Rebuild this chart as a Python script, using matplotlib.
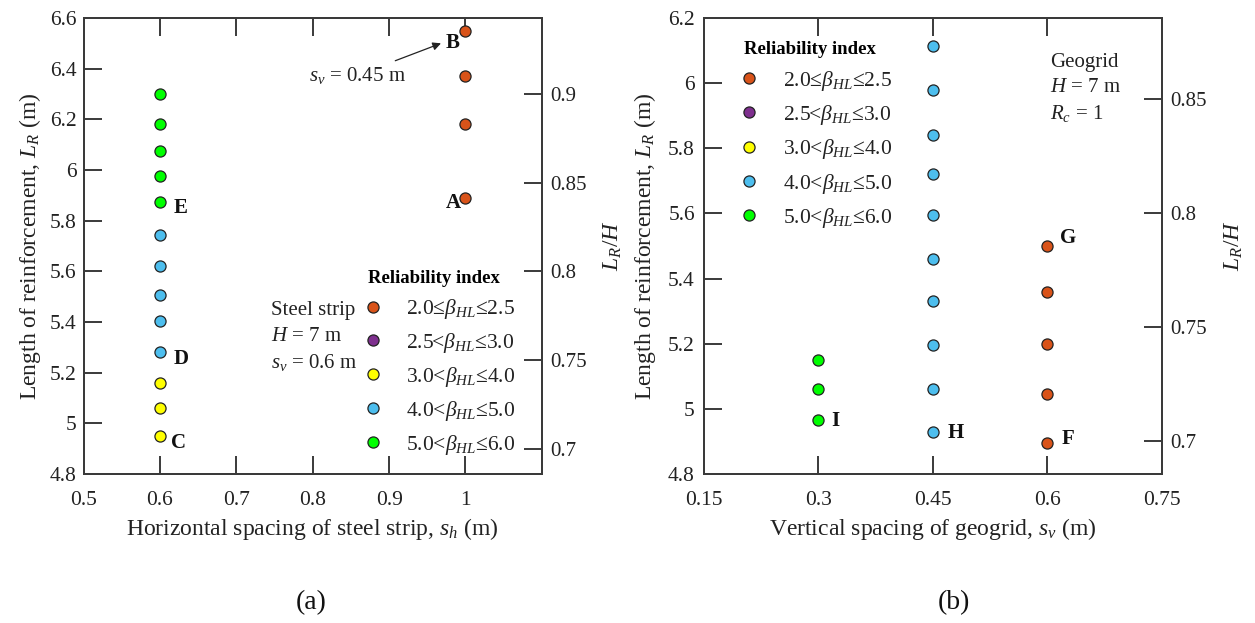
import matplotlib
matplotlib.use("Agg")
import matplotlib.pyplot as plt

plt.rcParams["font.family"] = ["Liberation Serif", "DejaVu Serif"]
plt.rcParams["mathtext.fontset"] = "custom"
plt.rcParams["mathtext.rm"] = "Liberation Serif"
plt.rcParams["mathtext.it"] = "Liberation Serif:italic"
plt.rcParams["mathtext.bf"] = "Liberation Serif:bold"

# ---------------- data ----------------
H_WALL = 7.0  # wall height (m)

classes = ["2.0≤$\\beta_{HL}$≤2.5",
           "2.5<$\\beta_{HL}$≤3.0",
           "3.0<$\\beta_{HL}$≤4.0",
           "4.0<$\\beta_{HL}$≤5.0",
           "5.0<$\\beta_{HL}$≤6.0"]
class_colors = ["#D95319", "#7E2F8E", "#FFFF00", "#4DBEEE", "#00FF00"]

# (a) steel strip: horizontal spacing s_h (m), length L_R (m), reliability class
a_sh = [1.0, 1.0, 1.0, 1.0,
        0.6, 0.6, 0.6,
        0.6, 0.6, 0.6, 0.6, 0.6,
        0.6, 0.6, 0.6, 0.6, 0.6]
a_LR = [6.55, 6.37, 6.18, 5.89,
        5.16, 5.06, 4.95,
        5.745, 5.62, 5.505, 5.405, 5.28,
        6.30, 6.18, 6.075, 5.975, 5.875]
a_cls = [0, 0, 0, 0,
         2, 2, 2,
         3, 3, 3, 3, 3,
         4, 4, 4, 4, 4]

# (b) geogrid: vertical spacing s_v (m), length L_R (m), reliability class
b_sv = [0.6, 0.6, 0.6, 0.6, 0.6,
        0.45, 0.45, 0.45, 0.45, 0.45, 0.45, 0.45, 0.45, 0.45, 0.45,
        0.3, 0.3, 0.3]
b_LR = [5.50, 5.36, 5.20, 5.045, 4.895,
        6.115, 5.98, 5.84, 5.72, 5.595, 5.46, 5.33, 5.195, 5.06, 4.93,
        5.15, 5.06, 4.965]
b_cls = [0, 0, 0, 0, 0,
         3, 3, 3, 3, 3, 3, 3, 3, 3, 3,
         4, 4, 4]

# labelled points: (letter, x, y, offset in pixels)
a_labels = [("B", 1.0, 6.55, (-20, -12)), ("A", 1.0, 5.89, (-20, -5)),
            ("E", 0.6, 5.875, (14, -6)), ("D", 0.6, 5.28, (14, -7)),
            ("C", 0.6, 4.95, (11, -7))]
b_labels = [("G", 0.6, 5.50, (13, 8)), ("F", 0.6, 4.895, (14, 4)),
            ("H", 0.45, 4.93, (15, -1)), ("I", 0.3, 4.965, (13, -1))]

a_xticks = [0.5, 0.6, 0.7, 0.8, 0.9, 1.0]
a_xticklabels = ["0.5", "0.6", "0.7", "0.8", "0.9", "1"]
a_yticks = [4.8, 5.0, 5.2, 5.4, 5.6, 5.8, 6.0, 6.2, 6.4, 6.6]
a_yticklabels = ["4.8", "5", "5.2", "5.4", "5.6", "5.8", "6", "6.2", "6.4", "6.6"]
a_rticks = [0.7, 0.75, 0.8, 0.85, 0.9]
a_rticklabels = ["0.7", "0.75", "0.8", "0.85", "0.9"]

b_xticks = [0.15, 0.3, 0.45, 0.6, 0.75]
b_xticklabels = ["0.15", "0.3", "0.45", "0.6", "0.75"]
b_yticks = [4.8, 5.0, 5.2, 5.4, 5.6, 5.8, 6.0, 6.2]
b_yticklabels = ["4.8", "5", "5.2", "5.4", "5.6", "5.8", "6", "6.2"]
b_rticks = [0.7, 0.75, 0.8, 0.85]
b_rticklabels = ["0.7", "0.75", "0.8", "0.85"]

# ---------------- figure ----------------
W, Hpx = 1255, 623
fig = plt.figure(figsize=(W / 100, Hpx / 100), dpi=100)

SPINE = "#3a3a3a"
TXT = "#222222"
TICK_FS = 15.5
LAB_FS = 17
LEG_FS = 15.5
MS = 8
TICK_LEN = 13
LW = 1.4


def px_axes(left, top, right, bottom):
    return fig.add_axes([left / W, 1 - bottom / Hpx, (right - left) / W, (bottom - top) / Hpx])


def make_twin(ax, rticks, rlabels):
    """Right-hand axis showing L_R/H on the same vertical scale."""
    tw = ax.twinx()
    lo, hi = ax.get_ylim()
    tw.set_ylim(lo / H_WALL, hi / H_WALL)
    tw.set_yticks(rticks, rlabels)
    tw.tick_params(axis="y", which="major", direction="in", length=TICK_LEN,
                   width=LW, color=SPINE, labelsize=TICK_FS - 0.5,
                   labelcolor=TXT, pad=6, left=False, right=True)
    for s in tw.spines.values():
        s.set_color(SPINE)
        s.set_linewidth(LW)
    return tw


def style(ax, ypad):
    for s in ax.spines.values():
        s.set_color(SPINE)
        s.set_linewidth(LW)
    ax.tick_params(axis="x", which="major", direction="in", length=TICK_LEN,
                   width=LW, color=SPINE, labelsize=TICK_FS, labelcolor=TXT,
                   top=True, bottom=True, pad=12)
    ax.tick_params(axis="y", which="major", direction="in", length=TICK_LEN,
                   width=LW, color=SPINE, labelsize=TICK_FS, labelcolor=TXT,
                   left=True, right=False, pad=ypad)


def draw_points(ax, xs, ys, cls):
    for k, (lab, col) in enumerate(zip(classes, class_colors)):
        px = [x for x, c in zip(xs, cls) if c == k]
        py = [y for y, c in zip(ys, cls) if c == k]
        ax.plot(px, py, linestyle="none", marker="o", ms=MS, mfc=col,
                mec="#222222", mew=0.9, label=lab, zorder=3)


def draw_letters(ax, labels):
    for txt, x, y, (dx, dy) in labels:
        ax.annotate(txt, xy=(x, y), xytext=(dx, dy), textcoords="offset pixels",
                    ha="left", va="center", fontsize=15, fontweight="bold",
                    color="#111111")


def add_legend(ax, anchor, spacing):
    leg = ax.legend(loc="upper left", bbox_to_anchor=anchor, frameon=False,
                    fontsize=LEG_FS, borderpad=0, borderaxespad=0,
                    handlelength=0.5, handletextpad=1.3, labelspacing=spacing,
                    title="Reliability index",
                    title_fontproperties={"weight": "bold", "size": 13.5},
                    alignment="left")
    for t in leg.get_texts():
        t.set_color(TXT)
    return leg


# ----- panel (a) -----
axa = px_axes(83.6, 18, 541.8, 474)
draw_points(axa, a_sh, a_LR, a_cls)
axa.set_xlim(0.5, 1.1)
axa.set_ylim(4.8, 6.6)
axa.set_xticks(a_xticks, a_xticklabels)
axa.set_yticks(a_yticks, a_yticklabels)
style(axa, 5)
twa = make_twin(axa, a_rticks, a_rticklabels)
axa.set_xlabel(r"Horizontal spacing of steel strip, $s_h$ (m)", fontsize=LAB_FS,
               color=TXT, labelpad=4.5)
axa.set_ylabel(r"Length of reinforcement, $L_R$ (m)", fontsize=LAB_FS,
               color=TXT, labelpad=5)
twa.set_ylabel(r"$L_R/H$", fontsize=LAB_FS, color=TXT, labelpad=11)
draw_letters(axa, a_labels)
axa.annotate(r"$s_v$ = 0.45 m", xy=(0.968, 6.50), xytext=(0.9225, 6.375),
             ha="right", va="center", fontsize=15, color=TXT,
             arrowprops=dict(arrowstyle="-|>", color=TXT, lw=0.9,
                             shrinkA=2, shrinkB=0, mutation_scale=12))
for i, line in enumerate(["Steel strip", r"$H$ = 7 m", r"$s_v$ = 0.6 m"]):
    axa.text(0.409, 0.3596 - i * 0.057, line, transform=axa.transAxes,
             ha="left", va="center", fontsize=15, color=TXT)
add_legend(axa, (0.62, 0.447), 0.46)

# ----- panel (b) -----
axb = px_axes(703.9, 18, 1162, 474)
draw_points(axb, b_sv, b_LR, b_cls)
axb.set_xlim(0.15, 0.75)
axb.set_ylim(4.8, 6.2)
axb.set_xticks(b_xticks, b_xticklabels)
axb.set_yticks(b_yticks, b_yticklabels)
style(axb, 6.5)
twb = make_twin(axb, b_rticks, b_rticklabels)
axb.set_xlabel(r"Vertical spacing of geogrid, $s_v$ (m)", fontsize=LAB_FS,
               color=TXT, labelpad=4.5)
axb.set_ylabel(r"Length of reinforcement, $L_R$ (m)", fontsize=LAB_FS,
               color=TXT, labelpad=7)
twb.set_ylabel(r"$L_R/H$", fontsize=LAB_FS, color=TXT, labelpad=11)
draw_letters(axb, b_labels)
for i, line in enumerate(["Geogrid", r"$H$ = 7 m", r"$R_c$ = 1"]):
    axb.text(0.756, 0.9035 - i * 0.0565, line, transform=axb.transAxes,
             ha="left", va="center", fontsize=15, color=TXT)
add_legend(axb, (0.087, 0.949), 0.48)

# panel captions
fig.text(310.7 / W, 1 - 603 / Hpx, "(a)", ha="center", va="center", fontsize=20, color="#111111")
fig.text(954 / W, 1 - 603 / Hpx, "(b)", ha="center", va="center", fontsize=20, color="#111111")

fig.savefig("out.png", dpi=100, facecolor="white")
